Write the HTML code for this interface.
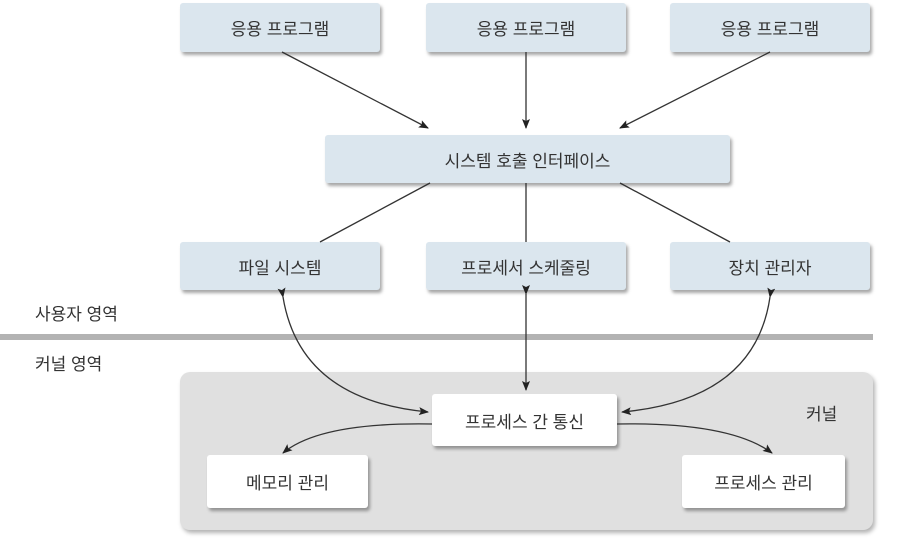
<!DOCTYPE html>
<html><head><meta charset="utf-8"><style>
body{margin:0;width:900px;height:548px;background:#fff;overflow:hidden;position:relative;font-family:"Liberation Sans","Noto Sans CJK KR",sans-serif;}
.b{position:absolute;background:#dbe6ee;box-shadow:2px 3px 3px rgba(0,0,0,.35);border-radius:3px;display:flex;align-items:center;justify-content:center;font-size:17px;color:#333;}
.w{background:#fff;}
.l{position:absolute;font-size:17px;color:#333;}
</style></head><body>
<div style="position:absolute;left:0;top:334px;width:873px;height:6px;background:#b3b3b3"></div>
<div style="position:absolute;left:180px;top:372px;width:693px;height:158px;background:#e0e0e0;border-radius:10px;box-shadow:2px 3px 4px rgba(0,0,0,.3)"></div>
<div class="b" style="left:180px;top:3px;width:200px;height:49px">응용 프로그램</div>
<div class="b" style="left:426px;top:3px;width:200px;height:49px">응용 프로그램</div>
<div class="b" style="left:670px;top:3px;width:200px;height:49px">응용 프로그램</div>
<div class="b" style="left:325px;top:135px;width:405px;height:48px">시스템 호출 인터페이스</div>
<div class="b" style="left:180px;top:242px;width:200px;height:48px">파일 시스템</div>
<div class="b" style="left:426px;top:242px;width:200px;height:48px">프로세서 스케줄링</div>
<div class="b" style="left:670px;top:242px;width:200px;height:48px">장치 관리자</div>
<div class="b w" style="left:432px;top:394px;width:185px;height:52px">프로세스 간 통신</div>
<div class="b w" style="left:207px;top:455px;width:161px;height:53px">메모리 관리</div>
<div class="b w" style="left:682px;top:455px;width:163px;height:53px">프로세스 관리</div>
<div class="l" style="left:35px;top:300px">사용자 영역</div>
<div class="l" style="left:35px;top:350px">커널 영역</div>
<div class="l" style="left:806px;top:400px">커널</div>
<svg width="900" height="548" style="position:absolute;left:0;top:0">
<defs><marker id="a" markerWidth="10" markerHeight="8" refX="9" refY="4" orient="auto" markerUnits="userSpaceOnUse"><path d="M0,0L10,4L0,8L2,4z" fill="#222"/></marker></defs>
<g stroke="#333" stroke-width="1.3" fill="none">
<line x1="282" y1="52" x2="428" y2="128" marker-end="url(#a)"/>
<line x1="526" y1="52" x2="526" y2="128" marker-end="url(#a)"/>
<line x1="770" y1="52" x2="620" y2="128" marker-end="url(#a)"/>
<line x1="430" y1="183" x2="320" y2="242"/>
<line x1="526" y1="183" x2="526" y2="242"/>
<line x1="620" y1="183" x2="730" y2="242"/>
<path d="M283,297 Q300,400 428,412" marker-start="url(#a)" marker-end="url(#a)"/>
<line x1="526" y1="294" x2="526" y2="390" marker-start="url(#a)" marker-end="url(#a)"/>
<path d="M770,297 Q755,400 622,412" marker-start="url(#a)" marker-end="url(#a)"/>
<path d="M432,424 Q320,422 283,453" marker-end="url(#a)"/>
<path d="M617,424 Q730,422 772,453" marker-end="url(#a)"/>
</g></svg>
</body></html>
